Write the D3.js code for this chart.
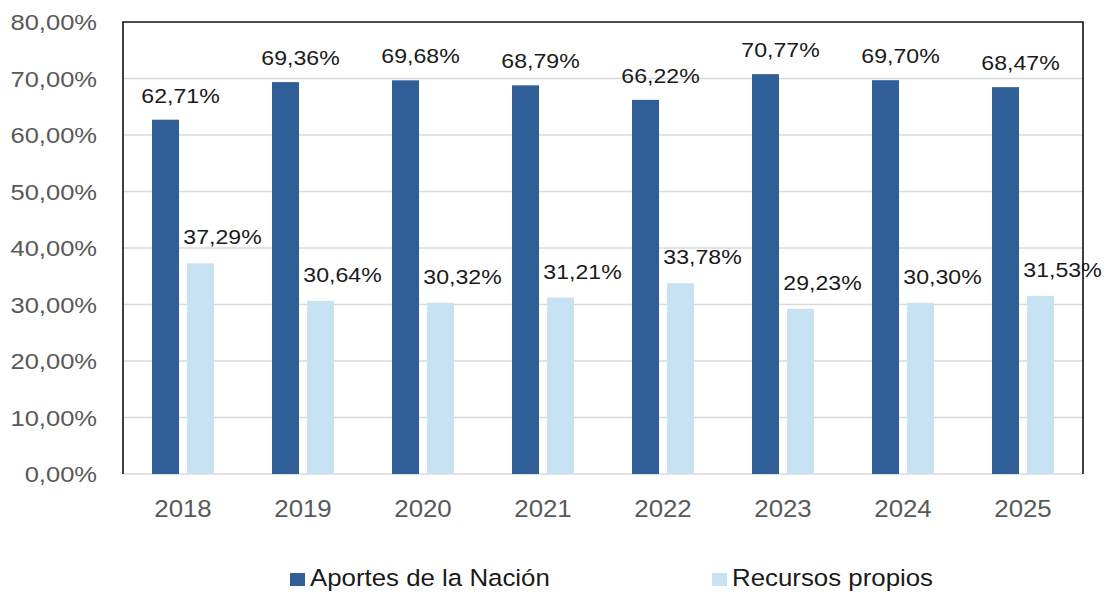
<!DOCTYPE html>
<html>
<head>
<meta charset="utf-8">
<script src="https://cdn.jsdelivr.net/npm/d3@7"></script>
<style>
  html, body { margin: 0; padding: 0; background: #fff; }
  svg { display: block; font-family: "Liberation Sans", Arial, sans-serif; }
</style>
</head>
<body>
<svg id="chart" width="1107" height="594"></svg>
<script>
// datos
const years = ["2018", "2019", "2020", "2021", "2022", "2023", "2024", "2025"];
const seriesNames = ["Aportes de la Nación", "Recursos propios"];
const aportes = [62.71, 69.36, 69.68, 68.79, 66.22, 70.77, 69.70, 68.47];
const propios = [37.29, 30.64, 30.32, 31.21, 33.78, 29.23, 30.30, 31.53];
const yTicks = [0, 10, 20, 30, 40, 50, 60, 70, 80];
const colors = ["#305e96", "#c7e2f2"];

const fmt = (v) => v.toFixed(2).replace(".", ",") + "%";

const svg = d3.select("#chart");
const m = { left: 123, right: 24, top: 22, bottom: 120 };
const W = 1107, H = 594;
const iw = W - m.left - m.right;
const ih = H - m.top - m.bottom;

const g = svg.append("g").attr("transform", `translate(${m.left},${m.top})`);

const x = d3.scaleBand().domain(years).range([0, iw]);
const xs = d3.scaleBand().domain(seriesNames).range([-31, 31]).paddingInner(8 / 35);
const y = d3.scaleLinear().domain([0, 80]).range([ih, 0]);

// rejilla
g.append("g").selectAll("line").data(yTicks.slice(0, -1)).join("line")
  .attr("x1", 0).attr("x2", iw)
  .attr("y1", (d) => y(d)).attr("y2", (d) => y(d))
  .attr("stroke", "#d9d9d9").attr("stroke-width", 1.5);

// eje Y
const gy = g.append("g").call(d3.axisLeft(y).tickValues(yTicks).tickSize(0).tickFormat(fmt));
gy.select(".domain").remove();
gy.selectAll("text")
  .attr("x", -26 / 1.16).attr("dy", "0.36em")
  .attr("transform", "scale(1.16,1)")
  .attr("fill", "#595959").attr("font-size", 22)
  .attr("font-family", "'Liberation Sans', Arial, sans-serif");

// eje X
const gx = g.append("g").attr("transform", `translate(0,${ih})`)
  .call(d3.axisBottom(x).tickSize(0));
gx.select(".domain").remove();
gx.selectAll("text")
  .attr("y", 43).attr("dy", 0)
  .attr("transform", "scale(1.1,1)")
  .attr("fill", "#595959").attr("font-size", 23.5)
  .attr("font-family", "'Liberation Sans', Arial, sans-serif");

const rows = years.map((yr, i) => ({ year: yr, vals: [aportes[i], propios[i]] }));

// barras
const groups = g.append("g").selectAll("g").data(rows).join("g")
  .attr("transform", (d) => `translate(${x(d.year) + x.bandwidth() / 2},0)`);

groups.selectAll("rect").data((d) => d.vals.map((v, k) => ({ v, k }))).join("rect")
  .attr("x", (d) => xs(seriesNames[d.k]))
  .attr("width", xs.bandwidth())
  .attr("y", (d) => y(d.v))
  .attr("height", (d) => ih - y(d.v))
  .attr("fill", (d) => colors[d.k]);

// etiquetas de datos (desplazadas a la derecha como en el original)
const labelDx = [15, 22];
const labelGap = [17, 19];
groups.selectAll("g.lbl").data((d) => d.vals.map((v, k) => ({ v, k }))).join("g")
  .attr("class", "lbl")
  .attr("transform", (d) =>
    `translate(${xs(seriesNames[d.k]) + xs.bandwidth() / 2 + labelDx[d.k]},${y(d.v) - labelGap[d.k]}) scale(1.1,1)`)
  .append("text")
  .attr("text-anchor", "middle")
  .attr("font-size", 21)
  .attr("fill", "#1a1a1a")
  .text((d) => fmt(d.v));

// marco (encima de las etiquetas)
g.append("path")
  .attr("d", `M0,${ih}V0H${iw}V${ih}`)
  .attr("fill", "none").attr("stroke", "#111").attr("stroke-width", 1.6);

// leyenda
const legendX = [290, 712];
const lg = svg.append("g").selectAll("g").data(seriesNames).join("g")
  .attr("transform", (d, i) => `translate(${legendX[i]},573)`);
lg.append("rect").attr("width", 15).attr("height", 13).attr("fill", (d, i) => colors[i]);
lg.append("text")
  .attr("transform", "translate(20,13) scale(1.1,1)")
  .attr("font-size", 23.5).attr("fill", "#1a1a1a")
  .text((d) => d);
</script>
</body>
</html>
